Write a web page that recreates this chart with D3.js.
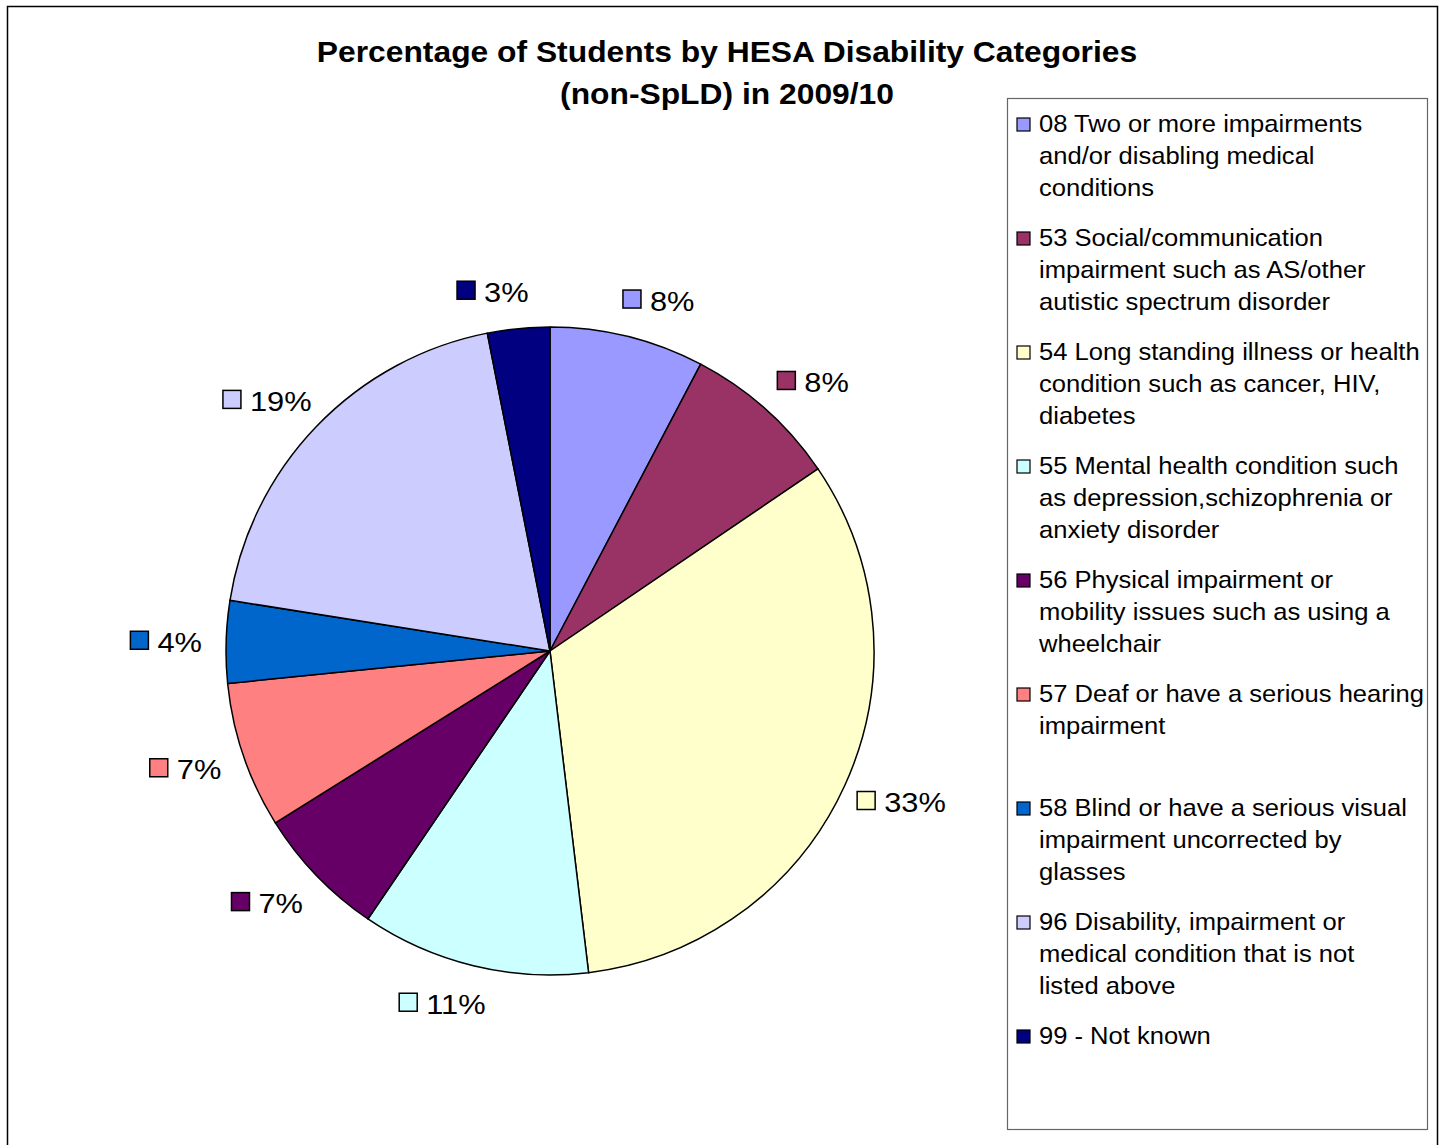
<!DOCTYPE html>
<html>
<head>
<meta charset="utf-8">
<script src="https://cdn.jsdelivr.net/npm/d3@7"></script>
<style>
  html, body { margin: 0; padding: 0; background: #fff; }
  svg { display: block; }
  text { font-family: "Liberation Sans", Arial, sans-serif; fill: #000; }
</style>
</head>
<body>
<svg id="chart" width="1447" height="1145"></svg>
<script>
// ---- data ----
const codes = ["08", "53", "54", "55", "56", "57", "58", "96", "99"];
const values = [7.7, 7.8, 32.6, 11.4, 6.6, 7.3, 4.1, 19.4, 3.1];
const pctLabels = ["8%", "8%", "33%", "11%", "7%", "7%", "4%", "19%", "3%"];
const legendLabels = [
  ["08 Two or more impairments", "and/or disabling medical", "conditions"],
  ["53 Social/communication", "impairment such as AS/other", "autistic spectrum disorder"],
  ["54 Long standing illness or health", "condition such as cancer, HIV,", "diabetes"],
  ["55 Mental health condition such", "as depression,schizophrenia or", "anxiety disorder"],
  ["56 Physical impairment or", "mobility issues such as using a", "wheelchair"],
  ["57 Deaf or have a serious hearing", "impairment"],
  ["58 Blind or have a serious visual", "impairment uncorrected by", "glasses"],
  ["96 Disability, impairment or", "medical condition that is not", "listed above"],
  ["99 - Not known"]
];
const colors = ["#9999FF", "#993366", "#FFFFCC", "#CCFFFF", "#660066", "#FF8080", "#0066CC", "#CCCCFF", "#000080"];
const titleLines = ["Percentage of Students by HESA Disability Categories", "(non-SpLD) in 2009/10"];

// ---- layout ----
const svg = d3.select("#chart");
const cx = 550, cy = 651, r = 324;

// outer chart border
svg.append("rect").attr("x", 7.5).attr("y", 6.5).attr("width", 1430).attr("height", 1150)
  .attr("fill", "#fff").attr("stroke", "#000").attr("stroke-width", 1.5);

// title
svg.append("g").attr("transform", "translate(727,0) scale(1.06,1)")
  .selectAll("text").data(titleLines).join("text")
  .attr("x", 0).attr("y", (d, i) => 62 + i * 42)
  .attr("text-anchor", "middle").attr("font-weight", "bold").attr("font-size", 30)
  .text(d => d);

const color = d3.scaleOrdinal().domain(codes).range(colors);
const pie = d3.pie().sort(null).value(d => d.value);
const data = codes.map((c, i) => ({ code: c, value: values[i], label: pctLabels[i] }));
const arcs = pie(data);
const arc = d3.arc().innerRadius(0).outerRadius(r);

const g = svg.append("g").attr("transform", `translate(${cx},${cy})`);
g.selectAll("path").data(arcs).join("path")
  .attr("d", arc)
  .attr("fill", d => color(d.data.code))
  .attr("stroke", "#000").attr("stroke-width", 1.5).attr("stroke-linejoin", "round");

// data labels
const labR = 362, sideShift = 22, labScale = 1.1;
const lab = g.selectAll("g.lab").data(arcs).join("g").attr("class", "lab")
  .attr("transform", d => {
    const a = (d.startAngle + d.endAngle) / 2;
    const x = Math.sin(a) * labR + (Math.sin(a) >= 0 ? sideShift : -sideShift);
    const y = -Math.cos(a) * labR;
    return `translate(${x},${y})`;
  });
lab.each(function (d) {
  const grp = d3.select(this);
  const t = grp.append("text").attr("font-size", 28).attr("x", 0).attr("y", 0).text(d.data.label);
  const w = t.node().getComputedTextLength() * labScale;
  const total = 19 + 8 + w;
  t.attr("transform", `translate(${-total / 2 + 27},11) scale(${labScale},1)`);
  grp.insert("rect", "text")
    .attr("x", -total / 2).attr("y", -9.5).attr("width", 18).attr("height", 18)
    .attr("fill", color(d.data.code))
    .attr("stroke", "#000").attr("stroke-width", 1.5);
});

// legend
svg.append("rect").attr("x", 1007.5).attr("y", 98.5).attr("width", 420).attr("height", 1031)
  .attr("fill", "#fff").attr("stroke", "#666").attr("stroke-width", 1.2);

const leg = svg.append("g").selectAll("g").data(codes).join("g")
  .attr("transform", (d, i) => `translate(1017,${124 + i * 114})`);
leg.append("rect").attr("x", 0).attr("y", -6).attr("width", 13).attr("height", 13)
  .attr("fill", d => color(d)).attr("stroke", "#000").attr("stroke-width", 1.2);
leg.append("text").attr("font-size", 24).attr("transform", "translate(22,0) scale(1.065,1)")
  .selectAll("tspan").data((d, i) => legendLabels[i]).join("tspan")
  .attr("x", 0).attr("y", (d, j) => 8 + j * 32)
  .text(d => d);
</script>
</body>
</html>
